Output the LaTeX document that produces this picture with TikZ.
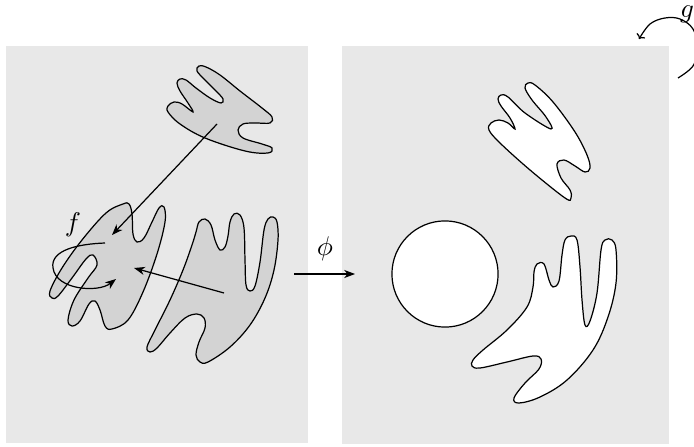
\documentclass[tikz,border=0pt]{standalone}
\usetikzlibrary{arrows.meta}
\definecolor{panelgray}{RGB}{232,232,232}
\definecolor{blobgray}{RGB}{211,211,211}

\begin{document}
\begin{tikzpicture}[x=0.013cm, y=-0.013cm,
    panel/.style={fill=panelgray},
    blob/.style={draw=black, line width=0.45pt, fill=blobgray},
    hole/.style={draw=black, line width=0.45pt, fill=white},
    disc/.style={circle, draw=black, line width=0.45pt, fill=white,
                 minimum size=1.38cm, inner sep=0pt},
    arr/.style={-{Stealth[length=4pt,width=3pt,inset=1.2pt]}, line width=0.45pt},
    turn/.style={-{To[length=1.6pt,width=3.6pt]}, line width=0.45pt},
    lab/.style={inner sep=0pt}]
  \useasboundingbox (0,0) rectangle (694,447);

  % ---------- the two panels ----------------------------------------------
  \fill[panel] (6,46) rectangle (308,443);
  \fill[panel] (342,46) rectangle (669,444);

  % ---------- left panel: three grey pieces --------------------------------
  \draw[blob] plot[smooth cycle, tension=0.6] coordinates {
    (168,112) (168,106) (174,102) (182,104) (193,112) (188,103) (180,91)
    (177,83) (180,79) (186,80) (196,88) (210,98) (221,103) (223,99)
    (216,91) (205,80) (197,71) (199,66) (206,67) (220,75) (240,91)
    (262,108) (272,117) (270,123) (255,123) (243,124) (238,130) (243,138)
    (262,144) (272,148) (268,153) (245,151) (205,138) (180,124)};
  \draw[blob] plot[smooth cycle, tension=0.6] coordinates {
    (123,204) (129,204) (132,214) (133,234) (137,242) (144,238) (152,222)
    (159,208) (164,207) (165,222) (157,254) (143,292) (128,320) (112,329)
    (105,326) (100,310) (95,301) (89,304) (80,321) (72,326) (68,320)
    (74,300) (88,278) (97,265) (93,255) (86,259) (72,278) (58,296) (52,298)
    (50,291) (62,268) (82,240) (106,213)};
  \draw[blob] plot[smooth cycle, tension=0.6] coordinates {
    (196,232) (199,222) (205,219) (211,225) (215,240) (220,250) (225,247)
    (228,236) (230,222) (234,214) (240,215) (244,228) (245,260) (246,285)
    (250,291) (255,286) (260,262) (264,230) (268,219) (273,217) (277,222)
    (278,240) (274,270) (265,298) (250,325) (230,347) (208,362) (200,362)
    (196,355) (199,342) (205,328) (204,318) (197,314) (185,318) (170,333)
    (157,348) (150,352) (147,347) (155,330) (170,300) (183,270) (192,245)};

  % arrows between the pieces
  \coordinate (topsrc) at (217,124);
  \coordinate (midtgt) at (112,235);
  \coordinate (rgtsrc) at (224,293);
  \coordinate (rgttgt) at (134,268);
  \draw[arr] (topsrc) -- (midtgt);
  \draw[arr] (rgtsrc) -- (rgttgt);

  % the loop f
  \coordinate (fstart) at (105,243);
  \coordinate (fend) at (116,279);
  \draw[arr] (fstart) .. controls (78,244) and (50,250) .. (53,268)
                      .. controls (56,290) and (98,293) .. (fend);
  \node[lab] (flab) at (73,225) {$f$};

  % ---------- the map phi ---------------------------------------------------
  \coordinate (phis) at (294,274);
  \coordinate (phie) at (355,274);
  \draw[arr] (phis) -- (phie);
  \node[lab] (philab) at (325,249) {$\phi$};

  % ---------- right panel: white holes --------------------------------------
  \draw[hole] plot[smooth cycle, tension=0.6] coordinates {
    (489,130) (491,123) (499,120) (508,123) (515,129) (510,118) (501,106)
    (498,99) (501,95) (508,97) (525,113) (551,129) (546,117) (532,100)
    (525,88) (528,83) (535,85) (553,102) (575,132) (587,155) (590,168)
    (585,172) (575,166) (564,160) (557,164) (561,178) (570,190) (571,198)
    (565,198) (530,170) (500,143)};
  \node[disc] (ball) at (445,274) {};
  \draw[hole] plot[smooth cycle, tension=0.6] coordinates {
    (534,272) (537,264) (544,264) (549,280) (553,287) (559,281) (562,255)
    (565,240) (571,236) (577,240) (580,267) (582,300) (585,325) (590,321)
    (597,293) (601,250) (605,240) (612,240) (616,250) (616,283) (608,317)
    (593,350) (567,380) (540,397) (519,403) (514,398) (525,383) (539,369)
    (541,359) (533,356) (507,362) (480,368) (472,366) (473,360) (483,350)
    (507,330) (527,307) (533,287)};

  % ---------- the turn g ------------------------------------------------------
  \coordinate (gstart) at (678,78);
  \coordinate (gend) at (639,39);
  \draw[turn] plot[smooth, tension=0.6] coordinates {
    (gstart) (693,66) (698,48) (693,29) (680,19) (665,18) (650,24) (gend)};
  \node[lab] (glab) at (687,14) {$g$};
\end{tikzpicture}
\end{document}
